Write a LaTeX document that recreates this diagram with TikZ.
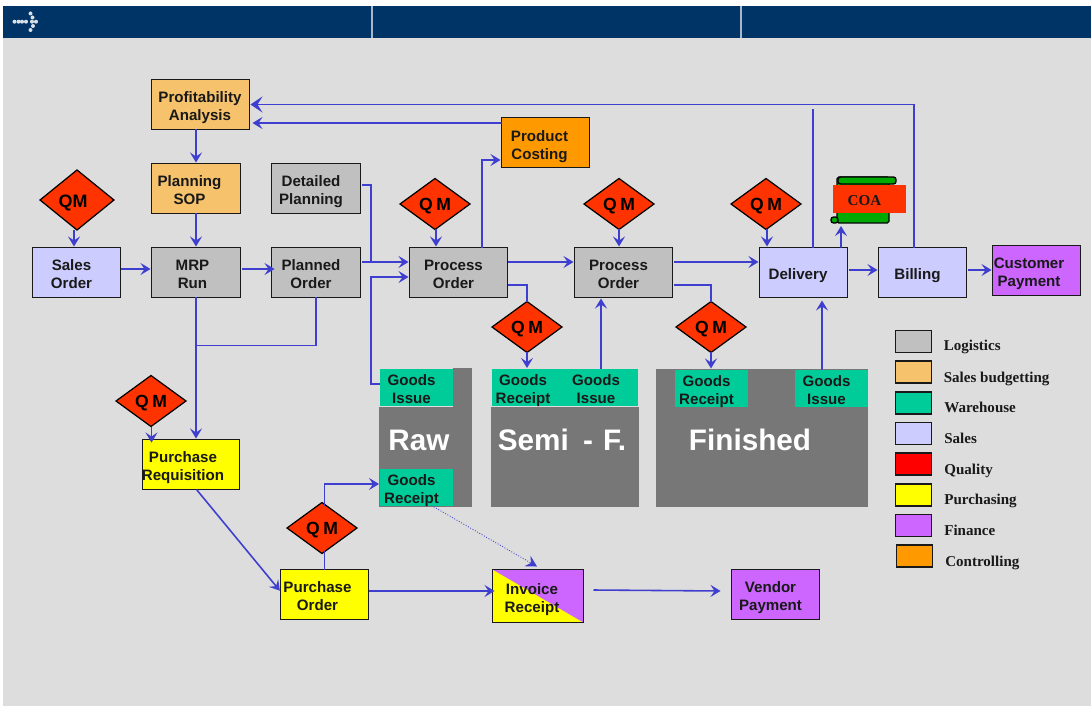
\documentclass[tikz,border=0pt]{standalone}
\usepackage{fontspec}
\setmainfont{Liberation Serif}
\setsansfont{Liberation Sans}
\usetikzlibrary{calc,arrows.meta,shapes.geometric}

\definecolor{headerblue}{HTML}{003366}
\definecolor{pagegrey}{HTML}{DDDDDD}
\definecolor{storegrey}{HTML}{777777}
\definecolor{flowblue}{HTML}{3F3FCF}
\definecolor{logistics}{HTML}{C0C0C0}
\definecolor{budgetting}{HTML}{F6C26B}
\definecolor{warehouse}{HTML}{00CC99}
\definecolor{sales}{HTML}{CCCCFF}
\definecolor{quality}{HTML}{FF0000}
\definecolor{purchasing}{HTML}{FFFF00}
\definecolor{finance}{HTML}{CC66FF}
\definecolor{controlling}{HTML}{FF9900}
\definecolor{qmred}{HTML}{FF3300}
\definecolor{scrollgreen}{HTML}{00AA00}

\newcommand{\qmlabel}{\raisebox{-3.7pt}[0pt][0pt]{Q\kern2pt M}}

\tikzset{
	procbox/.style={draw=black!90,line width=.7pt,rectangle,inner sep=0pt,outer sep=0pt,minimum width=1.76cm,minimum height=1cm},
	goodsbox/.style={fill=warehouse,rectangle,inner sep=0pt,outer sep=0pt,minimum width=1.46cm,minimum height=.74cm},
	boxtext/.style={font=\sffamily\bfseries\fontsize{8.6}{10.2}\selectfont,text=black!90,align=center,inner sep=0pt,xshift=-1mm,yshift=-.3mm},
	boxtextlow/.style={boxtext,yshift=-.4mm},
	qmdiamond/.style={draw=black,line width=.7pt,fill=qmred,diamond,inner sep=0pt,outer sep=0pt,minimum width=1.4cm,minimum height=1.02cm,font=\sffamily\bfseries\fontsize{10}{11}\selectfont},
	storetext/.style={font=\sffamily\bfseries\fontsize{16.9}{19}\selectfont,text=white,inner sep=0pt},
	legendbox/.style={draw=black!90,line width=.8pt,rectangle,inner sep=0pt,outer sep=0pt,minimum width=.72cm,minimum height=.44cm},
	legendtext/.style={font=\rmfamily\bfseries\fontsize{8.55}{10}\selectfont,text=black!90,anchor=base west,inner sep=0pt},
	flowline/.style={draw=flowblue,line width=.9pt},
	flow/.style={flowline,-{Stealth[length=2mm,width=2.4mm,inset=.8mm]},shorten >=.2mm},
	bigflow/.style={flowline,-{Stealth[length=2.4mm,width=3.2mm,inset=1mm]},shorten >=.2mm},
	headerdot/.style={fill=white!85!headerblue}
}

\begin{document}
\begin{tikzpicture}[x=.02cm,y=-.02cm]
	\useasboundingbox (0,0) rectangle (1091,706);

	%page and header
	\fill[pagegrey] (3,38) rectangle (1091,706);
	\fill[headerblue] (3,6) rectangle (1091,38);
	\draw[white!65!headerblue,line width=.6pt] (372,6) -- (372,38);
	\draw[white!65!headerblue,line width=.6pt] (741,6) -- (741,38);

	%header arrow
	\fill[headerdot] (14.5,21.7) circle (2);
	\fill[headerdot] (18.5,21.7) circle (2);
	\fill[headerdot] (22,21.7) circle (2);
	\fill[headerdot] (26,21.7) circle (2);
	\fill[headerdot] (30.5,13.5) circle (2);
	\fill[headerdot] (32.5,17.5) circle (2);
	\fill[headerdot] (32,21.7) circle (2);
	\fill[headerdot] (36,21.7) circle (2);
	\fill[headerdot] (33,26) circle (2);
	\fill[headerdot] (30.5,30) circle (2);

	%stores
	\fill[storegrey] (379,407) rectangle (472,507);
	\fill[storegrey] (453,368) rectangle (472,407);
	\fill[storegrey] (491,407) rectangle (639,507);
	\fill[storegrey] (656,369) rectangle (868,507);
	\node[storetext] (rawstore) at (419,440) {Raw};
	\node[storetext] (semistore) at (562,440) {Semi\kern3.4pt\ -\kern1pt\ F.};
	\node[storetext] (finishedstore) at (750,440) {Finished};

	%goods movements
	\node[goodsbox] (goodsissueraw) at (416.5,387.5) [label={[boxtext]center:Goods\\Issue}] {};
	\node[goodsbox] (goodsreceiptraw) at (416.5,487) [label={[boxtextlow]center:Goods\\Receipt}] {};
	\node[goodsbox] (goodsreceiptsemi) at (528,387.5) [label={[boxtextlow]center:Goods\\Receipt}] {};
	\node[goodsbox] (goodsissuesemi) at (601,387.5) [label={[boxtext]center:Goods\\Issue}] {};
	\node[goodsbox] (goodsreceiptfinish) at (711.5,388) [label={[boxtextlow]center:Goods\\Receipt}] {};
	\node[goodsbox] (goodsissuefinish) at (831.5,388) [label={[boxtext,yshift=-.1mm]center:Goods\\Issue}] {};

	%process steps
	\node[procbox,fill=budgetting,minimum width=1.96cm] (profit) at (200.5,104.5) [label={[boxtextlow,xshift=.9mm]center:Profitability\\Analysis}] {};
	\node[procbox,fill=budgetting,minimum width=1.78cm] (planningsop) at (196,188.5) [label={[boxtext,xshift=-.3mm]center:Planning\\SOP}] {};
	\node[procbox,fill=logistics,minimum width=1.78cm] (detailedplanning) at (316,188.5) [label={[boxtextlow]center:Detailed\\Planning}] {};
	\node[procbox,fill=sales] (salesorder) at (76.5,272.5) [label={[boxtext]center:Sales\\Order}] {};
	\node[procbox,fill=logistics,minimum width=1.78cm] (mrprun) at (196,272.5) [label={[boxtext,xshift=.3mm]center:MRP\\Run}] {};
	\node[procbox,fill=logistics,minimum width=1.78cm] (plannedorder) at (316,272.5) [label={[boxtext]center:Planned\\Order}] {};
	\node[procbox,fill=logistics,minimum width=1.96cm] (processraw) at (458.5,272.5) [label={[boxtext]center:Process\\Order}] {};
	\node[procbox,fill=logistics,minimum width=1.96cm] (processfinish) at (623.5,272.5) [label={[boxtext]center:Process\\Order}] {};
	\node[procbox,fill=sales] (delivery) at (803.5,272.5) [label={[boxtextlow,xshift=-.1mm]center:Delivery}] {};
	\node[procbox,fill=sales] (billing) at (922.5,272.5) [label={[boxtextlow]center:Billing}] {};
	\node[procbox,fill=finance] (customerpayment) at (1036.5,270.5) [label={[boxtextlow,xshift=-.5mm]center:Customer\\Payment}] {};
	\node[procbox,fill=controlling] (productcosting) at (545.5,142.5) [label={[boxtextlow,xshift=-.2mm,yshift=-.1mm]center:Product\\Costing}] {};
	\node[procbox,fill=purchasing,minimum width=1.94cm] (purchasereq) at (191,464.5) [label={[boxtextlow,xshift=-.6mm]center:Purchase\\Requisition}] {};
	\node[procbox,fill=purchasing] (purchaseorder) at (324.5,594.5) [label={[boxtext,xshift=-.4mm]center:Purchase\\Order}] {};
	\node[procbox,fill=purchasing,minimum width=1.82cm,minimum height=1.06cm,path picture={\fill[finance] (path picture bounding box.north west) -- (path picture bounding box.north east) -- (path picture bounding box.south east) -- cycle;}] (invoicereceipt) at (538,596) [label={[boxtextlow,xshift=-.2mm]center:Invoice\\Receipt}] {};
	\node[procbox,fill=finance] (vendorpayment) at (775.5,594.5) [label={[boxtextlow]center:Vendor\\Payment}] {};

	%quality checks
	\node[qmdiamond,font=\sffamily\bfseries\fontsize{10.2}{12}\selectfont,minimum width=1.48cm,minimum height=1.2cm] (qmsales) at (77,200) {\raisebox{-4pt}[0pt][0pt]{QM}\kern1.6mm};
	\node[qmdiamond] (qmprocess) at (435,204) {\qmlabel};
	\node[qmdiamond] (qmsemi) at (619,204) {\qmlabel};
	\node[qmdiamond] (qmdelivery) at (766,204) {\qmlabel};
	\node[qmdiamond] (qmreceipt) at (527,327) {\qmlabel};
	\node[qmdiamond] (qmfinish) at (711,327) {\qmlabel};
	\node[qmdiamond] (qmreq) at (151,401) {\qmlabel};
	\node[qmdiamond] (qmorder) at (322,528) {\qmlabel};

	%certificate
	\node[draw=black,line width=.8pt,fill=scrollgreen,rectangle,rounded corners=1pt,inner sep=0pt,outer sep=0pt,minimum width=1.04cm,minimum height=.92cm] (coascroll) at (863,200) {};
	\draw[black,line width=.8pt,fill=scrollgreen,rounded corners=1.5pt] (838,177) rectangle (896,184);
	\draw[black,line width=.8pt,fill=scrollgreen,rounded corners=1.5pt] (831,217) rectangle (838,223);
	\node[fill=qmred,rectangle,inner sep=0pt,outer sep=0pt,minimum width=1.46cm,minimum height=.56cm,label={[inner sep=0pt,xshift=-1mm,yshift=-.4mm,font=\rmfamily\bfseries\fontsize{8.6}{10}\selectfont,text=black!90]center:COA}] (coa) at (869.5,199) {};

	%upper flows
	\draw[flow] (profit.south -| planningsop.north) -- (planningsop.north);
	\draw[flow] (planningsop.south) -- (mrprun.north);
	\draw[flow] ($(qmsales.south)+(-3,0)$) -- ($(salesorder.north)+(-2.5,0)$);
	\draw[flow] ($(salesorder.east)+(1,-3.5)$) -- ($(mrprun.west)+(0,-3.5)$);
	\draw[flow] ($(mrprun.east)+(2,-3.5)$) -- ($(plannedorder.west)+(4,-3.5)$);
	\coordinate (planningjoin) at ($(plannedorder.east)+(10.5,-10.5)$);
	\draw[flowline] ($(detailedplanning.east)+(2,-3.5)$) -| (planningjoin);
	\draw[flow] ($(plannedorder.east)+(2,-10.5)$) -- ($(processraw.west)+(0,-10.5)$);
	\draw[flow] ($(goodsissueraw.west)+(0,-3.5)$) -- ++(-9,0) |- ($(processraw.west)+(0,4.5)$);
	\draw[flow] ($(processraw.east)+(1,-10.5)$) -- ($(processfinish.west)+(0,-10.5)$);
	\draw[flow] ($(processfinish.east)+(1,-10.5)$) -- ($(delivery.west)+(0,-10.5)$);
	\draw[flow] ($(processraw.north)+(23.5,0)$) |- ($(productcosting.west)+(0,17.5)$);
	\draw[flow] ($(qmprocess.south)+(1,0)$) -- ($(processraw.north)+(-22.5,0)$);
	\draw[flow] (qmsemi.south) -- (qmsemi.south |- processfinish.north);
	\draw[flow] ($(qmdelivery.south)+(1,0)$) -- ($(delivery.north)+(-36.5,0)$);

	%store flows
	\draw[flowline] ($(processraw.east)+(1,12.5)$) -| (qmreceipt.north);
	\draw[flow] (qmreceipt.south) -- (qmreceipt.south |- goodsreceiptsemi.north);
	\draw[flow] (goodsissuesemi.north) -- (goodsissuesemi.north |- processfinish.south);
	\draw[flowline] ($(processfinish.east)+(1,12.5)$) -| (qmfinish.north);
	\draw[flow] (qmfinish.south) -- (qmfinish.south |- goodsreceiptfinish.north);
	\draw[flow] ($(goodsissuefinish.north)+(-9.5,0)$) -- ($(delivery.south)+(18.5,2)$);

	%profitability feedback
	\draw[bigflow] ($(billing.north)+(-8.5,0)$) |- (profit.east);
	\draw[flow] ($(productcosting.west)+(0,-19.5)$) -- ($(profit.east)+(2,18.5)$);
	\coordinate (deliverytop) at ($(delivery.north)+(9.5,-139)$);
	\draw[flowline] ($(delivery.north)+(9.5,0)$) -- (deliverytop);

	%delivery and billing
	\draw[flow] ($(delivery.north)+(37.5,0)$) -- ($(coascroll.south)+(-22,2)$);
	\draw[flow] ($(delivery.east)+(1,-2.5)$) -- ($(billing.west)+(0,-2.5)$);
	\draw[flow] ($(billing.east)+(1,-2.5)$) -- ($(customerpayment.west)+(0,-.5)$);

	%purchasing flows
	\draw[flow] (mrprun.south) -- (mrprun.south |- purchasereq.north);
	\draw[flowline] (plannedorder.south) |- ($(mrprun.south)+(0,48)$);
	\draw[flow] ($(qmreq.south)+(.5,0)$) -- ($(qmreq.south |- purchasereq.north)+(.5,4)$);
	\draw[flow] ($(purchasereq.south)+(5.5,0)$) -- ($(purchaseorder.west)+(0,-3)$);
	\draw[flowline] (purchaseorder.north) -- ($(purchaseorder.north |- qmorder.south)+(0,-3)$);
	\draw[flow] ($(qmorder.north)+(2.5,3)$) |- ($(goodsreceiptraw.west)+(0,-3)$);
	\draw[flow] ($(purchaseorder.east)+(1,-3.5)$) -- ($(invoicereceipt.west)+(3,-5)$);
	\draw[flowline,line width=.5pt,densely dotted,-{Stealth[length=2.2mm,width=2.4mm,inset=.8mm]}] ($(goodsreceiptraw.south)+(15,0)$) -- ($(invoicereceipt.north)+(-1,-3)$);
	\draw[flow] ($(invoicereceipt.east)+(10,-6)$) -- ($(vendorpayment.west)+(-10,-3.5)$);

	%legend
	\node[legendbox,fill=logistics] (legendlogistics) at (913.5,341.5) {};
	\node[legendbox,fill=budgetting] (legendbudgetting) at (913.5,372) {};
	\node[legendbox,fill=warehouse] (legendwarehouse) at (913.5,403) {};
	\node[legendbox,fill=sales] (legendsales) at (913.5,433.5) {};
	\node[legendbox,fill=quality] (legendquality) at (913.5,464) {};
	\node[legendbox,fill=purchasing] (legendpurchasing) at (913.5,495) {};
	\node[legendbox,fill=finance] (legendfinance) at (913.5,525.5) {};
	\node[legendbox,fill=controlling] (legendcontrolling) at (914.5,556) {};
	\node[legendtext] (labellogistics) at (943.5,350.5) {Logistics};
	\node[legendtext] (labelbudgetting) at (943.5,382) {Sales budgetting};
	\node[legendtext] (labelwarehouse) at (944,412.5) {Warehouse};
	\node[legendtext] (labelsales) at (944,443) {Sales};
	\node[legendtext] (labelquality) at (944,474) {Quality};
	\node[legendtext] (labelpurchasing) at (944,504) {Purchasing};
	\node[legendtext] (labelfinance) at (944,535) {Finance};
	\node[legendtext] (labelcontrolling) at (945,566) {Controlling};
\end{tikzpicture}
\end{document}
